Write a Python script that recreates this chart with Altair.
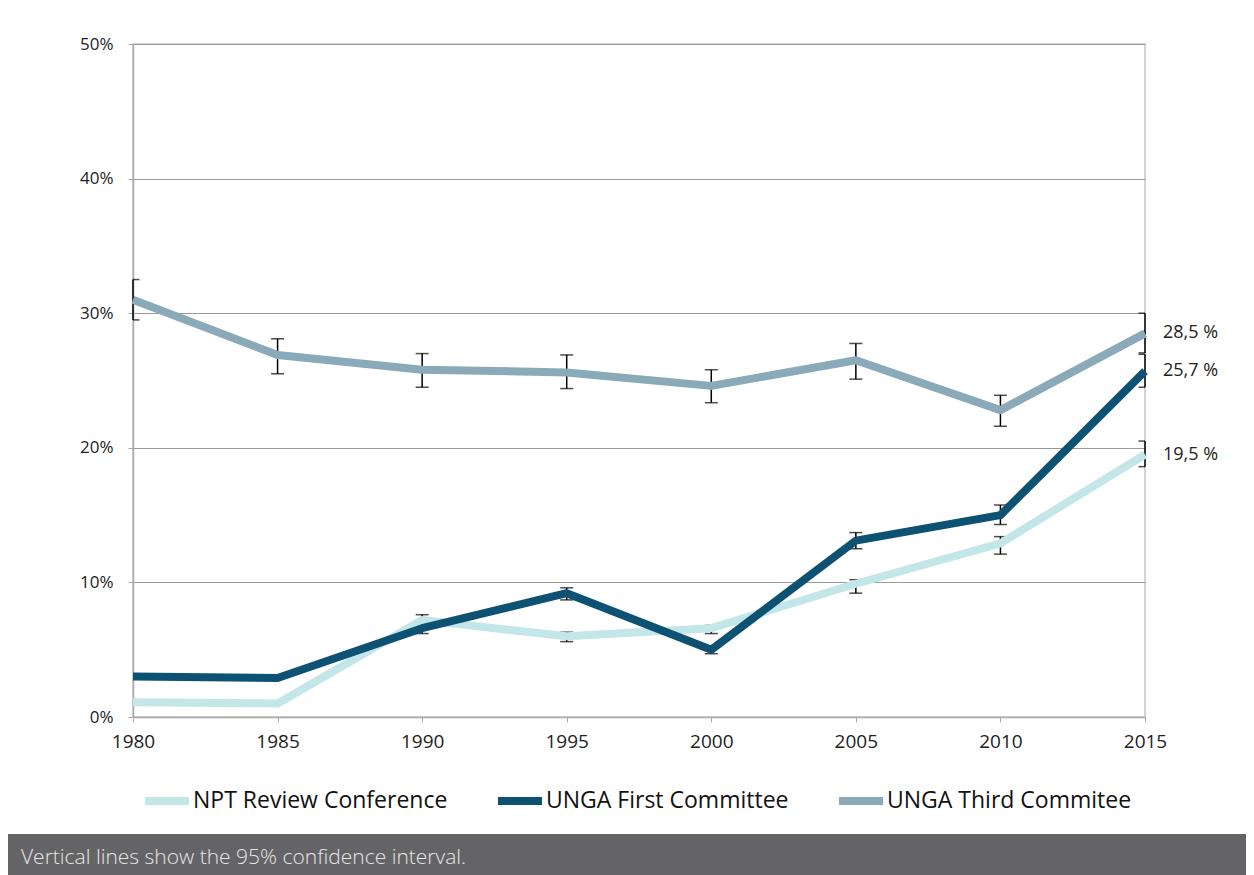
import altair as alt
import pandas as pd

years = [1980, 1985, 1990, 1995, 2000, 2005, 2010, 2015]
series_names = ["NPT Review Conference", "UNGA First Committee", "UNGA Third Commitee"]
series_colors = ["#c3e6e8", "#0d5173", "#8aa9b9"]

npt = [1.1, 1.0, 7.2, 6.0, 6.6, 9.9, 12.9, 19.5]
npt_lo = [None, None, 6.8, 5.6, 6.2, 9.2, 12.1, 18.6]
npt_hi = [None, None, 7.6, 6.3, 6.8, 10.2, 13.4, 20.5]

first = [3.0, 2.9, 6.6, 9.2, 5.0, 13.1, 15.0, 25.7]
first_lo = [None, None, 6.2, 8.7, 4.7, 12.5, 14.3, 24.5]
first_hi = [None, None, 7.0, 9.6, 5.3, 13.7, 15.75, 26.95]

third = [31.0, 26.9, 25.8, 25.6, 24.6, 26.5, 22.8, 28.5]
third_lo = [29.5, 25.5, 24.5, 24.4, 23.35, 25.1, 21.6, 27.05]
third_hi = [32.5, 28.1, 27.0, 26.9, 25.8, 27.75, 23.9, 30.0]

end_labels = ["19,5 %", "25,7 %", "28,5 %"]
y_ticks = [0, 10, 20, 30, 40, 50]
footnote = "Vertical lines show the 95% confidence interval."

rows = []
for name, vals, los, his in [
    (series_names[0], npt, npt_lo, npt_hi),
    (series_names[1], first, first_lo, first_hi),
    (series_names[2], third, third_lo, third_hi),
]:
    for yr, v, lo, hi in zip(years, vals, los, his):
        rows.append({"year": yr, "series": name, "value": v, "lo": lo, "hi": hi})
df = pd.DataFrame(rows)
err = df.dropna(subset=["lo", "hi"])

lab_df = pd.DataFrame({
    "year": [years[-1]] * 3,
    "value": [npt[-1], first[-1], third[-1]],
    "label": end_labels,
})

FONT = "Open Sans"

x_enc = alt.X("year:Q", scale=alt.Scale(domain=[1980, 2015], nice=False),
              axis=alt.Axis(values=years, format="d", title=None, grid=False,
                            tickSize=5, labelPadding=10, labelFontSize=19,
                            labelFont=FONT, labelColor="#222", labelFlush=False,
                            domainColor="#aaa", tickColor="#aaa", domainWidth=1.5))
y_scale = alt.Scale(domain=[0, 50], nice=False)
y_axis = alt.Axis(values=y_ticks, labelExpr="datum.value + '%'", title=None,
                  grid=True, gridColor="#999", gridWidth=1.2,
                  tickSize=5, labelPadding=15, labelFontSize=17, labelFont=FONT,
                  labelColor="#222", domainColor="#aaa", tickColor="#aaa",
                  domainWidth=1.5, labelFlush=False)

rules = alt.Chart(err).mark_rule(color="black", strokeWidth=1.5).encode(
    x=x_enc, y=alt.Y("lo:Q", scale=y_scale, axis=y_axis), y2="hi:Q")
caps_lo = alt.Chart(err).mark_tick(color="black", thickness=1.5, size=13,
                                   orient="horizontal", clip=True).encode(
    x="year:Q", y=alt.Y("lo:Q"))
caps_hi = alt.Chart(err).mark_tick(color="black", thickness=1.5, size=13,
                                   orient="horizontal", clip=True).encode(
    x="year:Q", y=alt.Y("hi:Q"))

lines = alt.Chart(df).mark_line(strokeWidth=8, strokeJoin="round").encode(
    x="year:Q",
    y=alt.Y("value:Q"),
    color=alt.Color("series:N",
                    scale=alt.Scale(domain=series_names, range=series_colors),
                    legend=alt.Legend(title=None, orient="none", direction="horizontal",
                                      legendX=8, legendY=731,
                                      symbolType="stroke", symbolStrokeWidth=8,
                                      symbolSize=1936, labelFontSize=23,
                                      labelFont=FONT, labelColor="#111",
                                      labelLimit=600,
                                      labelOffset=0, columnPadding=34)),
    order="year:Q",
)

labels = alt.Chart(lab_df).mark_text(align="left", baseline="middle", dx=18,
                                     fontSize=18, font=FONT, color="#222").encode(
    x="year:Q", y="value:Q", text="label:N")

note_df = pd.DataFrame({"note": [footnote]})
band = alt.Chart(note_df).mark_rect(color="#646466").encode(
    x=alt.value(-125), x2=alt.value(1113), y=alt.value(790), y2=alt.value(831))
note = alt.Chart(note_df).mark_text(align="left", baseline="middle", fontSize=21,
                                    font=FONT, fontWeight=300, color="#e6e6e6").encode(
    x=alt.value(-112), y=alt.value(814), text="note:N")

chart = alt.layer(rules, caps_lo, caps_hi, lines, labels, band, note).properties(
    width=1012, height=673,
    padding={"left": 125, "top": 36, "right": 101, "bottom": 158},
    autosize=alt.AutoSizeParams(type="none"),
    background="white",
).configure_view(stroke="#c8c8c8", strokeWidth=1.5)

chart.save("out.html", embed_options={"renderer": "svg", "actions": False})
